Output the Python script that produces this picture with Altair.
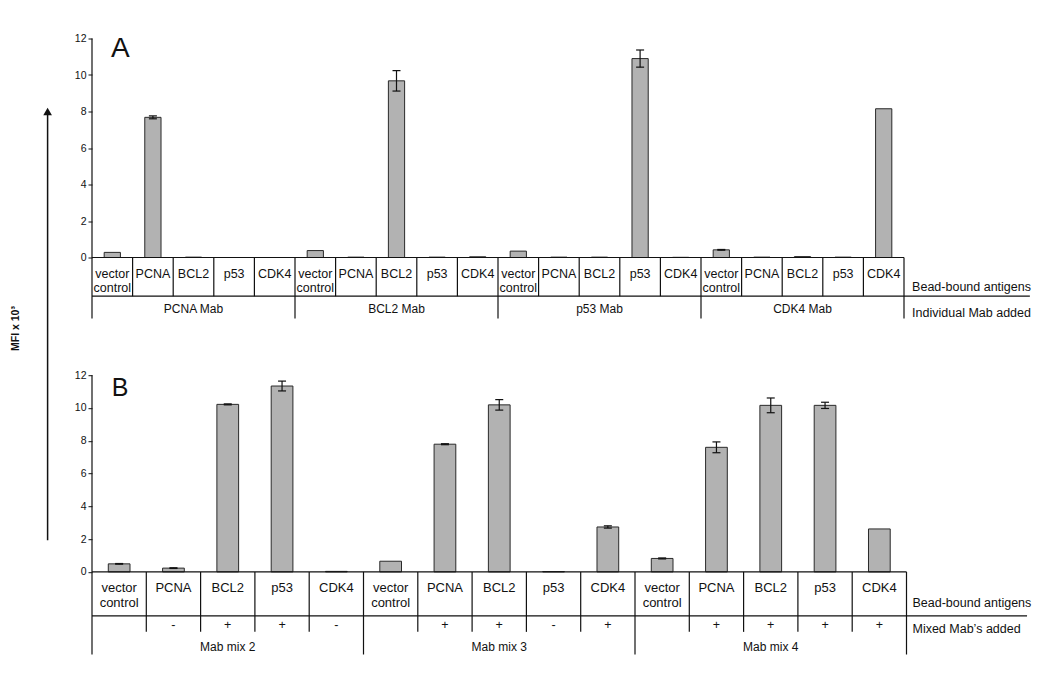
import altair as alt
import pandas as pd

FONT = "Liberation Sans"
INK = "#111111"
BAR_FILL = "#b2b2b2"
BAR_STROKE = "#2a2a2a"

# ---------------- data ----------------
antigens = ["vector control", "PCNA", "BCL2", "p53", "CDK4"]

a_groups = ["PCNA Mab", "BCL2 Mab", "p53 Mab", "CDK4 Mab"]
a_values = [
    [0.28, 7.68, 0.02, 0.00, 0.00],
    [0.38, 0.02, 9.68, 0.02, 0.04],
    [0.35, 0.02, 0.02, 10.90, 0.01],
    [0.42, 0.02, 0.05, 0.02, 8.15],
]
a_errors = [
    [0.00, 0.08, 0.00, 0.00, 0.00],
    [0.00, 0.00, 0.56, 0.00, 0.00],
    [0.00, 0.00, 0.00, 0.47, 0.00],
    [0.02, 0.00, 0.00, 0.00, 0.00],
]

b_groups = ["Mab mix 2", "Mab mix 3", "Mab mix 4"]
b_values = [
    [0.49, 0.23, 10.22, 11.34, 0.03],
    [0.65, 7.79, 10.19, 0.02, 2.74],
    [0.82, 7.60, 10.16, 10.16, 2.62],
]
b_errors = [
    [0.02, 0.02, 0.03, 0.30, 0.00],
    [0.00, 0.03, 0.32, 0.00, 0.07],
    [0.03, 0.33, 0.45, 0.19, 0.00],
]
b_mix_signs = [
    ["", "-", "+", "+", "-"],
    ["", "+", "+", "-", "+"],
    ["", "+", "+", "+", "+"],
]

y_ticks = [0, 2, 4, 6, 8, 10, 12]

Y_AXIS = alt.Axis(values=y_ticks, domain=False, grid=False, tickSize=4,
                  tickColor=INK, tickWidth=1, labelFont=FONT,
                  labelFontSize=10.5, labelColor=INK, labelPadding=2,
                  title=None, format="d")


def build_panel(groups, values, errors, signs, width, height, ymin, lay, letter,
                row_labels, extra_layers=()):
    n = len(groups) * len(antigens)
    cell_px = width / n
    cap = 4.0 / cell_px

    rows = []
    for gi, g in enumerate(groups):
        for ai, a in enumerate(antigens):
            words = a.split(" ")
            rows.append(dict(
                group=g, antigen=a, pos=gi * len(antigens) + ai,
                value=values[gi][ai], err=errors[gi][ai],
                line1=words[0], line2=" ".join(words[1:]),
                sign=signs[gi][ai] if signs else "",
            ))
    df = pd.DataFrame(rows)
    df["x1"] = df["pos"] - 0.2
    df["x2"] = df["pos"] + 0.2
    df["base"] = 0.0
    df["lo"] = df["value"] - df["err"]
    df["hi"] = df["value"] + df["err"]
    err_df = df[df["err"] > 0].copy()
    caps = pd.concat([
        err_df.assign(cy=err_df["lo"]),
        err_df.assign(cy=err_df["hi"]),
    ])
    caps["cx1"] = caps["pos"] - cap
    caps["cx2"] = caps["pos"] + cap

    xs = alt.Scale(domain=[-0.5, n - 0.5], nice=False, zero=False)
    ys = alt.Scale(domain=[ymin, 12], nice=False, zero=False)

    def X(f):
        return alt.X(f, type="quantitative", scale=xs, axis=None)

    def Y(f):
        return alt.Y(f, type="quantitative", scale=ys, axis=Y_AXIS)

    bars = alt.Chart(df).mark_bar(
        fill=BAR_FILL, stroke=BAR_STROKE, strokeWidth=1
    ).encode(x=X("x1"), x2="x2", y=Y("value"), y2="base")

    err_rule = alt.Chart(err_df).mark_rule(color=INK, strokeWidth=1.2).encode(
        x=X("pos"), y=Y("lo"), y2="hi")
    err_caps = alt.Chart(caps).mark_rule(color=INK, strokeWidth=1.2).encode(
        x=X("cx1"), x2="cx2", y=Y("cy"))

    # table grid
    vsegs = [dict(x=-0.5, y1=12, y2=ymin), dict(x=n - 0.5, y1=0, y2=ymin)]
    for k in range(n - 1):
        if (k + 1) % len(antigens) == 0:
            vsegs.append(dict(x=k + 0.5, y1=0, y2=ymin))
        else:
            vsegs.append(dict(x=k + 0.5, y1=0, y2=lay["cell_bottom"]))
    hsegs = [dict(y=0, x1=-0.5, x2=n - 0.5),
             dict(y=lay["bead_bottom"], x1=-0.5, x2=lay["line_end"])]
    vgrid = alt.Chart(pd.DataFrame(vsegs)).mark_rule(color=INK, strokeWidth=1.2).encode(
        x=X("x"), y=Y("y1"), y2="y2")
    hgrid = alt.Chart(pd.DataFrame(hsegs)).mark_rule(color=INK, strokeWidth=1.2).encode(
        y=Y("y"), x=X("x1"), x2="x2")

    def text_layer(data, field, ypos, size, align="center", xf="pos"):
        return alt.Chart(data).mark_text(
            font=FONT, fontSize=size, color=INK, align=align, baseline="middle"
        ).transform_calculate(ty=str(ypos)).encode(
            x=X(xf), y=Y("ty"), text=alt.Text(field, type="nominal"))

    t1 = text_layer(df, "line1", lay["line1_y"], lay["bead_size"])
    t2 = text_layer(df[df["line2"] != ""], "line2", lay["line2_y"], lay["bead_size"])

    gdf = pd.DataFrame({"group": groups,
                        "gpos": [gi * len(antigens) + (len(antigens) - 1) / 2
                                 for gi in range(len(groups))]})
    tg = text_layer(gdf, "group", lay["group_y"], 12, xf="gpos")

    layers = [bars, err_rule, err_caps, vgrid, hgrid, t1, t2, tg]
    if signs:
        layers.append(text_layer(df[df["sign"] != ""], "sign", lay["sign_y"], 12.5))

    rdf = pd.DataFrame({"label": [r[0] for r in row_labels],
                        "ly": [r[1] for r in row_labels]})
    rdf["lx"] = lay["label_x"]
    right = alt.Chart(rdf).mark_text(
        font=FONT, fontSize=12.5, color=INK, align="left", baseline="middle"
    ).encode(x=X("lx"), y=Y("ly"), text="label:N")
    layers.append(right)

    ldf = pd.DataFrame({"t": [letter[0]], "lx": [letter[1]], "ly": [letter[2]]})
    let = alt.Chart(ldf).mark_text(
        font=FONT, fontSize=letter[3], color=INK, align="left", baseline="middle"
    ).encode(x=X("lx"), y=Y("ly"), text="t:N")
    layers.append(let)

    layers.extend(extra_layers)
    return alt.layer(*layers).properties(width=width, height=height)


one = pd.DataFrame({"d": [0]})
arrow_line = alt.Chart(one).mark_rule(color=INK, strokeWidth=1.5).encode(
    x=alt.value(-44.4), y=alt.value(76), y2=alt.value(501.7))
arrow_head = alt.Chart(one).mark_point(
    shape="triangle-up", filled=True, size=75, color=INK, opacity=1
).encode(x=alt.value(-44.4), y=alt.value(73))
y_title = alt.Chart(one).mark_text(
    font=FONT, fontSize=10.5, fontWeight="bold", color=INK, angle=270,
    align="center", baseline="middle"
).encode(x=alt.value(-76), y=alt.value(290), text=alt.value("MFI x 10³"))

# Panel A : 18.25 px per unit
A_W, A_H = 812, 280
A_MIN = 12 - A_H / 18.25
lay_a = dict(cell_bottom=-2.12, bead_bottom=-2.12, line_end=22.6,
             line1_y=-0.90, line2_y=-1.68, group_y=-2.83,
             label_x=19.70, bead_size=12.5)
panel_a = build_panel(
    a_groups, a_values, a_errors, None, A_W, A_H, A_MIN, lay_a,
    ("A", -0.03, 11.42, 28),
    [("Bead-bound antigens", -1.60), ("Individual Mab added", -3.05)],
    extra_layers=[arrow_line, arrow_head, y_title],
)

# Panel B : 16.39 px per unit
B_W, B_H = 814.5, 279.3
B_MIN = 12 - B_H / 16.39
lay_b = dict(cell_bottom=-3.66, bead_bottom=-2.685, line_end=16.72,
             line1_y=-0.976, line2_y=-1.87, group_y=-4.61, sign_y=-3.25,
             label_x=14.61, bead_size=13)
panel_b = build_panel(
    b_groups, b_values, b_errors, b_mix_signs, B_W, B_H, B_MIN, lay_b,
    ("B", -0.137, 11.24, 25),
    [("Bead-bound antigens", -1.87), ("Mixed Mab\u2019s added", -3.51)],
)

chart = alt.vconcat(panel_a, panel_b, spacing=56.7, bounds="flush").properties(
    padding={"left": 3, "top": 25.5, "right": 5, "bottom": 5},
    background="white",
).configure_view(stroke=None)

chart.save("out.html", embed_options={"renderer": "svg", "actions": False})
